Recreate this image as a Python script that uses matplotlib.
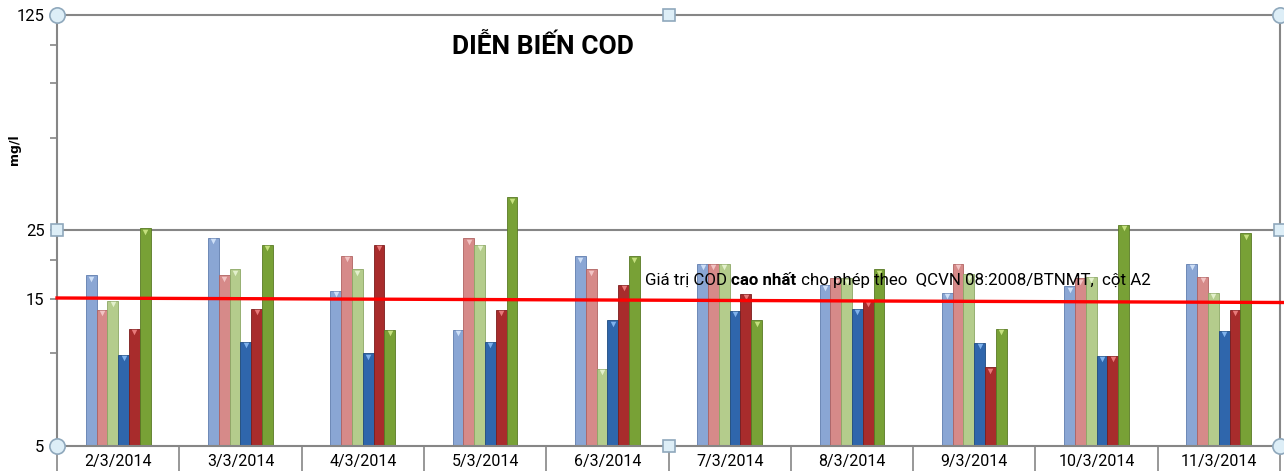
import numpy as np
import matplotlib
matplotlib.use('Agg')
import matplotlib.pyplot as plt
from matplotlib.ticker import FixedLocator, NullFormatter, FixedFormatter

plt.rcParams['font.family'] = ['Roboto', 'DejaVu Sans']

# ngày quan trắc
dates = ['2/3/2014', '3/3/2014', '4/3/2014', '5/3/2014', '6/3/2014',
         '7/3/2014', '8/3/2014', '9/3/2014', '10/3/2014', '11/3/2014']

# COD (mg/l) của 6 chuỗi số liệu
s1 = [17.9, 23.7, 15.9, 11.9, 20.6, 19.5, 16.7, 15.7, 16.5, 19.5]
s2 = [13.8, 17.9, 20.7, 23.6, 18.7, 19.5, 17.5, 19.5, 17.5, 17.7]
s3 = [14.8, 18.7, 18.7, 22.5, 8.9, 19.5, 17.5, 18.0, 17.7, 15.7]
s4 = [9.9, 10.9, 10.0, 10.9, 12.8, 13.7, 13.9, 10.8, 9.8, 11.8]
s5 = [12.0, 13.9, 22.5, 13.8, 16.7, 15.6, 14.8, 9.0, 9.8, 13.8]
s6 = [25.4, 22.5, 11.9, 32.0, 20.6, 12.8, 18.7, 12.0, 26.1, 24.5]

# giới hạn QCVN (đường vẽ tay, hơi nghiêng)
limit_line = [15.1, 14.6]

y_base = 5
y_ticks = [5, 15, 25, 125]
y_minor = [10, 20, 50, 75, 100]

series = [s1, s2, s3, s4, s5, s6]
colors = ['#8AA6D4', '#D68A89', '#B4CC8C', '#2F66AC', '#A82C2C', '#78A136']
edges = ['#5F7DAE', '#B06262', '#8CA865', '#1E4A80', '#7C1C1C', '#587A24']
tips = ['#CFE0F7', '#F2C4C4', '#E3F0CC', '#7FB2EC', '#E87A7A', '#C5E07E']

fig = plt.figure(figsize=(12.84, 4.71), dpi=100)
ax = fig.add_axes([0.0444, 0.0531, 0.9525, 0.9151])

x = np.arange(len(dates))
w = 0.0883
for i, vals in enumerate(series):
    vals = np.array(vals)
    pos = x + (i - 2.5) * w
    ax.bar(pos, vals - y_base, w, bottom=y_base, color=colors[i],
           edgecolor=edges[i], linewidth=0.6, zorder=2)
    ax.scatter(pos, vals * 0.975, marker='v', s=16, color=tips[i],
               linewidths=0, zorder=3)

ax.set_yscale('log', base=5)
ax.set_ylim(5, 125)
ax.set_xlim(-0.5, len(dates) - 0.5)

ax.yaxis.set_major_locator(FixedLocator(y_ticks))
ax.yaxis.set_major_formatter(FixedFormatter([str(v) for v in y_ticks]))
ax.yaxis.set_minor_locator(FixedLocator(y_minor))
ax.yaxis.set_minor_formatter(NullFormatter())
ax.tick_params(axis='y', which='minor', direction='out', length=5,
               color='#868686', width=1.2)
ax.tick_params(axis='y', which='major', direction='out', length=5,
               color='#868686', width=1.2, labelsize=12, pad=4)

ax.set_xticks(x)
ax.set_xticklabels(dates)
ax.set_xticks(np.arange(len(dates) + 1) - 0.5, minor=True)
ax.tick_params(axis='x', which='major', length=0, labelsize=11.5, pad=6)
ax.tick_params(axis='x', which='minor', direction='out', length=19,
               color='#868686', width=1.2)

for s in ax.spines.values():
    s.set_color('#868686')
    s.set_linewidth(1.5)
ax.axhline(25, color='#868686', linewidth=1.5, zorder=1)

# đường giới hạn COD
ax.plot([-0.5, len(dates) - 0.47], limit_line, color='#FF0000',
        linewidth=2.4, zorder=4, clip_on=False)

ax.text(0.397, 0.926, 'DIỄN BIẾN COD', transform=ax.transAxes,
        ha='center', va='center', fontsize=19, fontweight='bold')

t1 = ax.text(0.481, 0.385, 'Giá trị COD ', transform=ax.transAxes,
             ha='left', va='center', fontsize=12.2, zorder=5)
t2 = ax.annotate('cao nhất', xy=(1, 0), xycoords=t1, ha='left', va='bottom',
                 fontsize=12.2, fontweight='bold', zorder=5)
ax.annotate(' cho phép theo  QCVN 08:2008/BTNMT,  cột A2', xy=(1, 0),
            xycoords=t2, ha='left', va='bottom', fontsize=12.2, zorder=5)

fig.text(15 / 1284, 1 - 150 / 471, 'mg/l', rotation=90, ha='center',
         va='center', fontsize=9, fontweight='bold', family='DejaVu Sans')

# tay nắm chọn khung biểu đồ (như ảnh chụp Excel)
for hx, hy, mk, sz in [(0, 1, 'o', 11), (0, 0, 'o', 11), (1, 1, 'o', 11),
                       (1, 0, 'o', 11), (0, 0.5, 's', 9), (1, 0.5, 's', 9),
                       (0.5, 1, 's', 9), (0.5, 0, 's', 9)]:
    ax.plot(hx, hy, marker=mk, markersize=sz, markerfacecolor='#DDEEF7',
            markeredgecolor='#8FA8BC', markeredgewidth=1.2,
            transform=ax.transAxes, clip_on=False, zorder=6)

fig.savefig('out.png', dpi=100)
